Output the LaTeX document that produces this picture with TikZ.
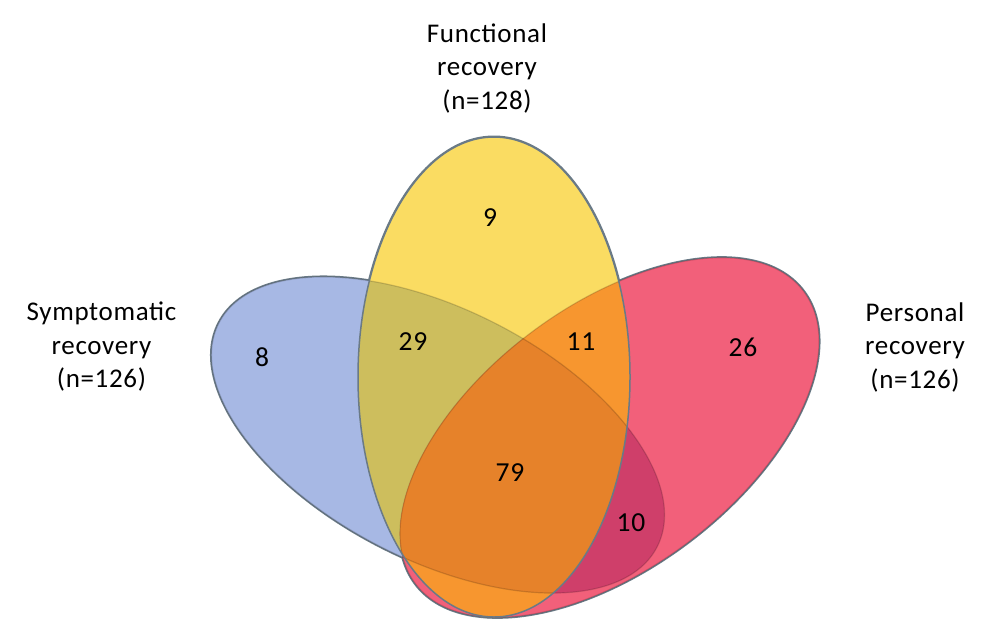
\documentclass[tikz,border=0pt]{standalone}
\usepackage{fontspec}
\setmainfont{Carlito}[LetterSpace=2.5]
\definecolor{cblue}{HTML}{A7B8E4}
\definecolor{cyel}{HTML}{FADC62}
\definecolor{cred}{HTML}{F2607A}
\definecolor{colive}{HTML}{CDBE5D}
\definecolor{corange}{HTML}{F7962F}
\definecolor{cmag}{HTML}{CF3F6A}
\definecolor{cdark}{HTML}{E6822A}
\definecolor{cline}{HTML}{6A7A86}
\begin{document}
\begin{tikzpicture}[x=1pt,y=-1pt,
  lbl/.style={align=center,font=\fontsize{27}{33.5}\selectfont,text=black,inner sep=0pt},
  num/.style={font=\fontsize{27.5}{32}\selectfont,text=black,inner sep=0pt},
  outer/.style={draw=cline,line width=3pt},
  inner/.style={draw=black,draw opacity=0.16,line width=1.2pt},
  yline/.style={draw=cline,line width=1.5pt}]
\useasboundingbox (0,0) rectangle (1000,643);
\def\blueE{(438,435) circle[x radius=246pt, y radius=125.5pt, rotate=-27]}
\def\redE{(609.5,437.5) circle[x radius=243pt, y radius=131pt, rotate=37]}
\def\yelE{(494,377) circle[x radius=136pt, y radius=240pt]}
% outer outlines (half covered by fills)
\path[outer] \blueE;
\path[outer] \redE;
\path[outer] \yelE;
% base fills
\fill[cblue] \blueE;
\fill[cred] \redE;
\fill[cyel] \yelE;
% overlaps
\begin{scope}
  \clip \blueE;
  \fill[colive] \yelE;
  \fill[cmag] \redE;
\end{scope}
\begin{scope}
  \clip \yelE;
  \fill[corange] \redE;
\end{scope}
\begin{scope}
  \clip \blueE;
  \clip \yelE;
  \fill[cdark] \redE;
\end{scope}
% inner faint outlines
\path[inner] \blueE;
\path[inner] \redE;
\path[yline] \yelE;
% labels
\node[lbl] (func) at (487,68) {Functional\\recovery\\(n=128)};
\node[lbl] (symp) at (101.5,347) {Symptomatic\\recovery\\(n=126)};
\node[lbl] (pers) at (915,347) {Personal\\recovery\\(n=126)};
% counts
\node[num] (n8) at (262,357) {8};
\node[num] (n9) at (490,218) {9};
\node[num] (n29) at (413,342) {29};
\node[num] (n11) at (581,342) {11};
\node[num] (n26) at (743,347) {26};
\node[num] (n79) at (510,473) {79};
\node[num] (n10) at (631,523) {10};
\end{tikzpicture}
\end{document}
